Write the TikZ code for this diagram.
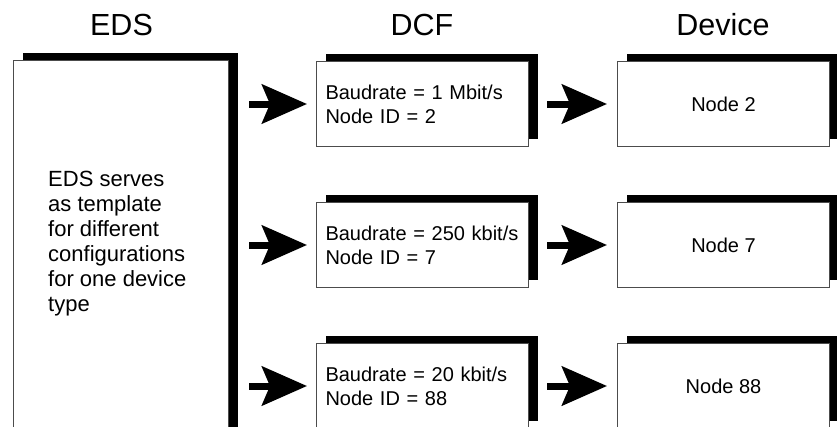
\documentclass[tikz,border=0pt]{standalone}
\usepackage{fontspec}
\setmainfont{Liberation Sans}
\usetikzlibrary{arrows.meta,shadows}
\begin{document}
\begin{tikzpicture}[x=1pt,y=-1pt,
  box/.style={draw=black!70, line width=1pt, fill=white, inner sep=0pt, anchor=north west,
    drop shadow={opacity=1, fill=black, shadow xshift=9pt, shadow yshift=8pt}},
  dcfbox/.style={box, minimum width=212pt, minimum height=85pt, text width=194pt,
    inner xsep=9pt, align=left, font=\fontsize{20}{24}\selectfont},
  devbox/.style={box, minimum width=212pt, minimum height=85pt, font=\fontsize{20}{24}\selectfont},
  title/.style={font=\fontsize{30.5}{36}\selectfont, anchor=base, inner sep=0pt},
  arr/.style={line width=7pt, -{Stealth[length=45pt,width=39pt,inset=8pt]}},
]
\useasboundingbox (0,0) rectangle (837,426);
\clip (0,0) rectangle (837,426);

% titles
\node[title] (teds) at (121.5,35) {EDS};
\node[title] (tdcf) at (422,35) {DCF};
\node[title] (tdev) at (723,35) {Device};

% EDS box
\node[box, minimum width=215pt, minimum height=380pt] (eds) at (13,60) {};
\node[anchor=north west, inner sep=0pt, align=left, font=\fontsize{22}{25}\selectfont]
  (edstext) at (48,171) {EDS serves\\as template\\for different\\configurations\\for one device\\type};

% DCF boxes
\node[dcfbox] (d1) at (316,61) {Baudrate = 1 Mbit/s\\Node ID = 2};
\node[dcfbox] (d2) at (316,202) {Baudrate = 250 kbit/s\\Node ID = 7};
\node[dcfbox] (d3) at (316,343) {Baudrate = 20 kbit/s\\Node ID = 88};

% Device boxes
\node[devbox] (n1) at (617,61) {Node 2};
\node[devbox] (n2) at (617,202) {Node 7};
\node[devbox] (n3) at (617,343) {Node 88};

% arrows
\foreach \d/\n in {d1/n1,d2/n2,d3/n3}{
  \draw[arr, shorten <=20pt, shorten >=9pt] (eds.east |- \d.west) -- (\d.west);
  \draw[arr, shorten <=18pt, shorten >=10pt] (\d.east) -- (\n.west);
}
\end{tikzpicture}
\end{document}
